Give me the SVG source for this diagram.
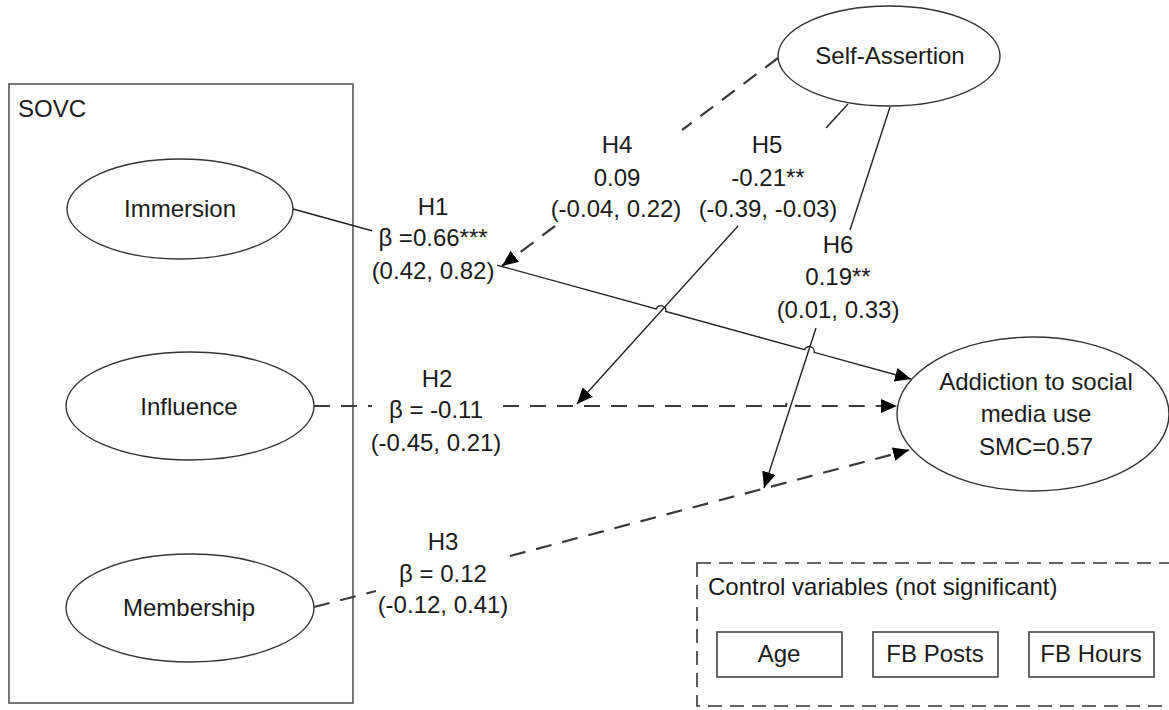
<svg xmlns="http://www.w3.org/2000/svg" width="1169" height="710" viewBox="0 0 1169 710">
  <defs>
    <marker id="arr" markerUnits="userSpaceOnUse" markerWidth="18" markerHeight="14" refX="16" refY="7" orient="auto">
      <path d="M0,0 L16,7 L0,14 Z" fill="#000"/>
    </marker>
    <style>
      text { font-family: "Liberation Sans", Arial, sans-serif; font-size: 24px; fill: #1a1a1a; }
      .c { text-anchor: middle; }
      .node { fill: #fff; stroke: #333; stroke-width: 1.4; }
      .box { fill: none; stroke: #555; stroke-width: 1.6; }
      .ctl { fill: #fff; stroke: #444; stroke-width: 1.6; }
      .solid { fill: none; stroke: #222; stroke-width: 1.4; }
      .dash { fill: none; stroke: #3a3a3a; stroke-width: 2.2; stroke-dasharray: 16 11; }
    </style>
  </defs>
  <rect width="1169" height="710" fill="#fff"/>

  <g id="sovc">
    <rect class="box" x="9" y="84" width="344" height="619"/>
    <text x="18" y="117">SOVC</text>
  </g>

  <g id="immersion">
    <ellipse class="node" cx="180" cy="209" rx="113" ry="50"/>
    <text class="c" x="180" y="217">Immersion</text>
  </g>
  <g id="influence">
    <ellipse class="node" cx="190" cy="406" rx="124" ry="54"/>
    <text class="c" x="189" y="415">Influence</text>
  </g>
  <g id="membership">
    <ellipse class="node" cx="190" cy="608" rx="124" ry="54"/>
    <text class="c" x="189" y="616">Membership</text>
  </g>
  <g id="self-assertion">
    <ellipse class="node" cx="889" cy="56" rx="111" ry="50"/>
    <text class="c" x="890" y="64">Self-Assertion</text>
  </g>
  <g id="addiction">
    <ellipse class="node" cx="1033" cy="414" rx="136" ry="77"/>
    <text class="c" x="1036" y="390">Addiction to social</text>
    <text class="c" x="1036" y="422">media use</text>
    <text class="c" x="1036" y="455">SMC=0.57</text>
  </g>

  <g id="controls">
    <rect class="box" x="697" y="563" width="480" height="143" style="stroke:#333;stroke-dasharray:14 8"/>
    <text x="708" y="595">Control variables (not significant)</text>
    <g id="age">
      <rect class="ctl" x="717" y="632" width="125" height="45"/>
      <text class="c" x="779" y="662">Age</text>
    </g>
    <g id="fb-posts">
      <rect class="ctl" x="873" y="632" width="125" height="45"/>
      <text class="c" x="935" y="662">FB Posts</text>
    </g>
    <g id="fb-hours">
      <rect class="ctl" x="1029" y="632" width="125" height="45"/>
      <text class="c" x="1091" y="662">FB Hours</text>
    </g>
  </g>

  <g id="connectors">
    <!-- H1 -->
    <path class="solid" d="M293,209 L372,230.7"/>
    <path class="solid" marker-end="url(#arr)" d="M497,265.1 L656.2,308.9 A5,5 0 0 1 665.8,311.5 L804.5,349.7 A5,5 0 0 1 814.1,352.3 L911,379"/>
    <!-- H2 -->
    <path class="dash" d="M314,406 L372,406"/>
    <path class="dash" marker-end="url(#arr)" d="M503,406 L786,406 A5,5 0 0 1 796,406 L897,406"/>
    <!-- H3 -->
    <path class="dash" d="M314,607 L376,591"/>
    <path class="dash" marker-end="url(#arr)" d="M510,556 L909,450"/>
    <!-- H4 -->
    <path class="dash" d="M778,58 L682,130"/>
    <path class="dash" marker-end="url(#arr)" d="M555,226 L502,266"/>
    <!-- H5 -->
    <path class="solid" d="M848,104 L826,128"/>
    <path class="solid" marker-end="url(#arr)" d="M738,226 L577,404"/>
    <!-- H6 -->
    <path class="solid" d="M890,107 L850,230"/>
    <path class="solid" marker-end="url(#arr)" d="M816,328 L764,488"/>
  </g>

  <g id="labels">
    <text class="c" x="433" y="215">H1</text>
    <text class="c" x="433" y="246">β =0.66***</text>
    <text class="c" x="433" y="279">(0.42, 0.82)</text>

    <text class="c" x="437" y="387">H2</text>
    <text class="c" x="436" y="418">β = -0.11</text>
    <text class="c" x="436" y="451">(-0.45, 0.21)</text>

    <text class="c" x="443" y="550">H3</text>
    <text class="c" x="443" y="582">β = 0.12</text>
    <text class="c" x="443" y="613">(-0.12, 0.41)</text>

    <text class="c" x="617" y="153">H4</text>
    <text class="c" x="617" y="186">0.09</text>
    <text class="c" x="616" y="217">(-0.04, 0.22)</text>

    <text class="c" x="767" y="153">H5</text>
    <text class="c" x="768" y="186">-0.21**</text>
    <text class="c" x="768" y="217">(-0.39, -0.03)</text>

    <text class="c" x="838" y="253">H6</text>
    <text class="c" x="838" y="285">0.19**</text>
    <text class="c" x="838" y="318">(0.01, 0.33)</text>
  </g>
</svg>
